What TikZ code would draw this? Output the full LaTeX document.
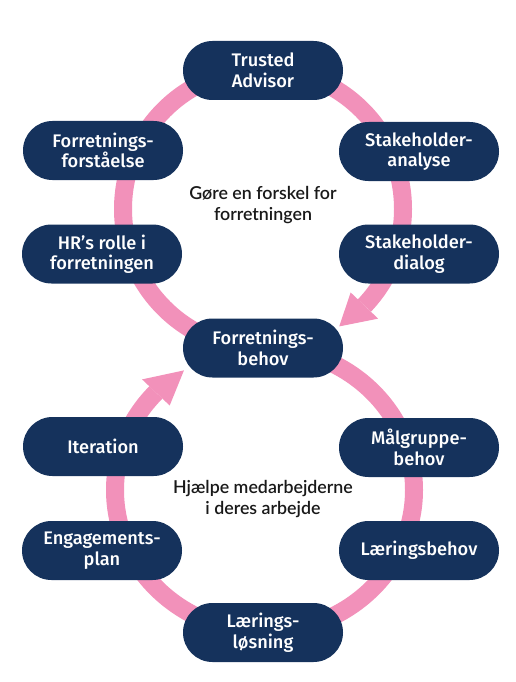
\documentclass[tikz,border=0pt]{standalone}
\usepackage{fontspec}
\usetikzlibrary{calc}
\setmainfont{Fira Sans}[UprightFont={* Medium}]
\newfontfamily\centerfont{Lato}[UprightFont={* Semibold}]
\definecolor{navy}{HTML}{15325C}
\definecolor{ringpink}{HTML}{F291BA}
\tikzset{
  pill/.style={fill=navy, text=white, rounded corners=29.5pt, minimum width=160pt, minimum height=59pt, inner sep=0pt, align=center, font=\fontsize{18.2}{20.5}\selectfont},
  ring/.style={draw=ringpink, line width=18pt},
  arrowhd/.style={fill=ringpink},
  centertxt/.style={align=center, font=\centerfont\fontsize{17.8}{21}\selectfont, text=black!90}
}
\begin{document}
\begin{tikzpicture}[x=1pt,y=-1pt]
\useasboundingbox (0,0) rectangle (515,682);
\coordinate (c1c) at (263,209);
\coordinate (c2c) at (264.5,490);
% rings
\draw[ring] ($(c1c)+(90:140)$) arc[start angle=90, end angle=403.6, radius=140];
\draw[ring] ($(c2c)+(-90:149.5 and 142)$) arc[start angle=-90, end angle=223.4, x radius=149.5, y radius=142];
% arrowheads
\coordinate (t1) at ($(c1c)+(57:140)$);
\fill[arrowhd] ($(c1c)+(43.6:121)$) -- ($(c1c)+(43.6:159)$) -- (t1) -- cycle;
\coordinate (t2) at ($(c2c)+(237.4:149.5 and 142)$);
\fill[arrowhd] ($(c2c)+(223.4:130.5 and 123)$) -- ($(c2c)+(223.4:168.5 and 161)$) -- (t2) -- cycle;
% nodes
\node[pill] (ta) at (263,70.5) {Trusted\\Advisor};
\node[pill] (ff) at (103,150.5) {Forretnings-\\forståelse};
\node[pill] (sa) at (419,151.5) {Stakeholder-\\analyse};
\node[pill] (hr) at (102,254) {HR's rolle i\\forretningen};
\node[pill] (sd) at (419,254) {Stakeholder-\\dialog};
\node[pill] (fb) at (263,348) {Forretnings-\\behov};
\node[pill] (it) at (103,446.5) {Iteration};
\node[pill] (mb) at (419,447.5) {Målgruppe-\\behov};
\node[pill] (ep) at (102,550.5) {Engagements-\\plan};
\node[pill] (lb) at (419,550.5) {Læringsbehov};
\node[pill] (ll) at (263,632.5) {Lærings-\\løsning};
\node[centertxt] (c1) at (263,205) {Gøre en forskel for\\forretningen};
\node[centertxt] (c2) at (263,499) {Hjælpe medarbejderne\\i deres arbejde};
\end{tikzpicture}
\end{document}
